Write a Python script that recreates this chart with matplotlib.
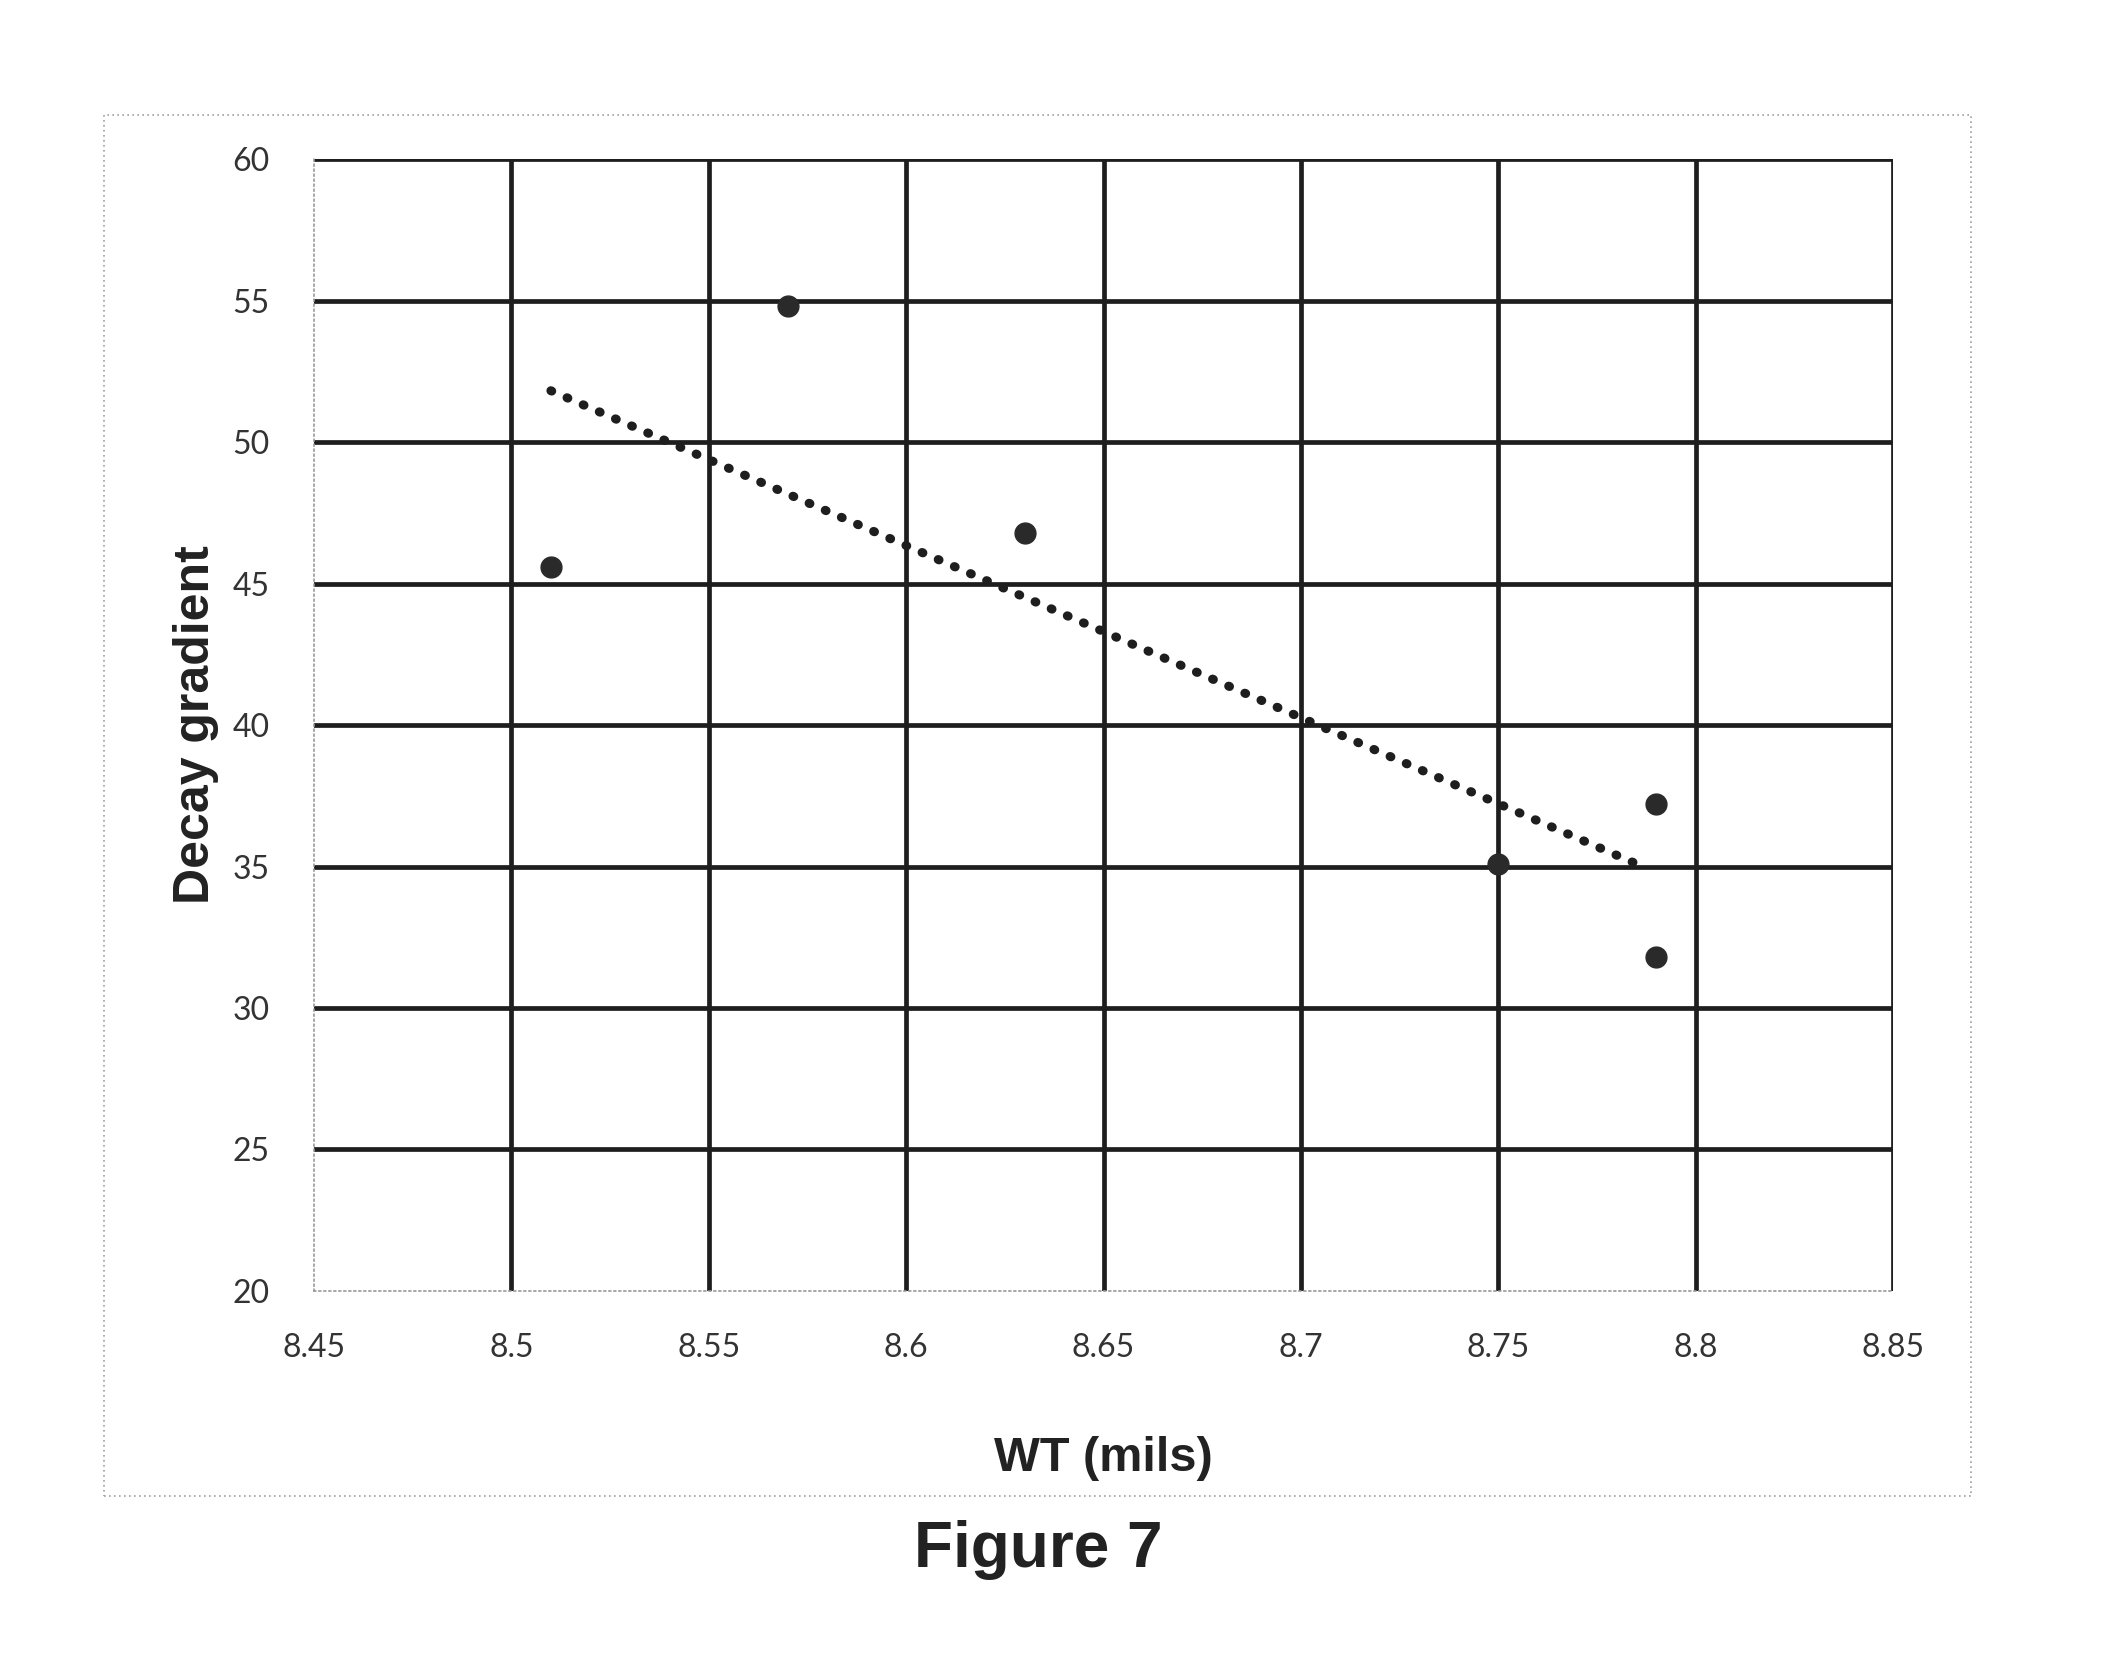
import matplotlib
matplotlib.use("Agg")
import matplotlib.pyplot as plt
import numpy as np
from matplotlib.patches import Rectangle

# data
wt = [8.51, 8.57, 8.63, 8.75, 8.79, 8.79]
decay = [45.6, 54.8, 46.8, 35.1, 37.2, 31.8]

x_ticks = [8.45, 8.5, 8.55, 8.6, 8.65, 8.7, 8.75, 8.8, 8.85]
x_labels = ["8.45", "8.5", "8.55", "8.6", "8.65", "8.7", "8.75", "8.8", "8.85"]
y_ticks = [20, 25, 30, 35, 40, 45, 50, 55, 60]

ink = '#1e1e1e'

fig = plt.figure(figsize=(21.12, 16.57), dpi=100)
ax = fig.add_axes([0.1487, 0.2209, 0.8963 - 0.1487, 0.904 - 0.2209])

ax.set_xlim(8.45, 8.85)
ax.set_ylim(20, 60)
ax.set_xticks(x_ticks)
ax.set_xticklabels(x_labels)
ax.set_yticks(y_ticks)

# heavy grid, except on the left/bottom axis lines
for xv in x_ticks[1:]:
    ax.axvline(xv, color=ink, lw=3.4, zorder=1)
for yv in y_ticks[1:]:
    ax.axhline(yv, color=ink, lw=3.4, zorder=1)

for side in ['top', 'right']:
    ax.spines[side].set_visible(False)
for side in ['left', 'bottom']:
    ax.spines[side].set_color('#9a9a9a')
    ax.spines[side].set_linewidth(1.2)
    ax.spines[side].set_linestyle((0, (1, 2)))

ax.tick_params(length=0, labelsize=23, labelcolor='#333333')
ax.tick_params(axis='y', pad=32)
ax.tick_params(axis='x', pad=30)
for lab in ax.get_xticklabels() + ax.get_yticklabels():
    lab.set_family('Lato')

# linear trend line (least squares over the points)
k, b = np.polyfit(wt, decay, 1)
tx = np.array([min(wt), max(wt) - 0.002])
ax.plot(tx, k * tx + b, color=ink, lw=6.5, linestyle=(0, (0.1, 1.85)),
        dash_capstyle='round', zorder=3)

ax.plot(wt, decay, linestyle='none', marker='o', markersize=15,
        color='#2a2a2a', zorder=4)

ax.set_xlabel('WT (mils)', fontsize=35, fontweight='bold', color='#222222',
              family='Liberation Sans')
ax.xaxis.set_label_coords(0.5, -0.128)
ax.set_ylabel('Decay gradient', fontsize=36, fontweight='bold', color='#222222',
              family='Liberation Sans')
ax.yaxis.set_label_coords(-0.06, 0.5)

# faint dotted frame around the chart
fig.patches.append(Rectangle((104 / 2112, 1 - 1496 / 1657), (1971 - 104) / 2112,
                             (1496 - 115) / 1657, transform=fig.transFigure,
                             fill=False, edgecolor='#a0a0a0', lw=1.2,
                             linestyle=(0, (1, 2))))

fig.text(0.4915, 1 - 1550 / 1657, 'Figure 7', ha='center', va='center',
         fontsize=46, fontweight='bold', color='#222222', family='Liberation Sans')

fig.savefig('out.png', dpi=100)
